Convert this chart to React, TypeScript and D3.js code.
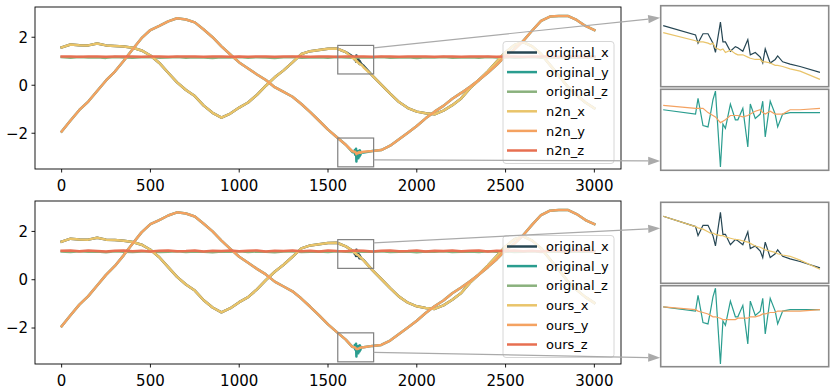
import React from 'react';
import * as d3 from 'd3';

// sample index grid of the coarse trend (every 50 samples)
const sampleT = d3.range(0, 3001, 50);

const trendX = [1.58, 1.70, 1.67, 1.66, 1.74, 1.66, 1.64, 1.61, 1.56, 1.45,
  1.24, 0.93, 0.52, 0.12, -0.20, -0.45, -0.85, -1.15, -1.35, -1.18,
  -0.93, -0.72, -0.40, -0.02, 0.33, 0.62, 0.95, 1.30, 1.42, 1.47,
  1.52, 1.53, 1.38, 1.05, 0.78, 0.40, 0.03, -0.35, -0.70, -0.95,
  -1.10, -1.17, -1.21, -1.06, -0.83, -0.55, -0.12, 0.22, 0.58, 0.98,
  1.38, 1.68, 1.80, 1.62, 1.30, 0.85, 0.40, -0.06, -0.42, -0.72, -0.96];

const trendY = [-1.93, -1.47, -1.03, -0.68, -0.24, 0.20, 0.57, 1.02, 1.50, 1.96,
  2.30, 2.47, 2.66, 2.79, 2.74, 2.62, 2.32, 2.00, 1.62, 1.28,
  0.95, 0.70, 0.45, 0.22, -0.08, -0.28, -0.48, -0.78, -1.12, -1.48,
  -1.85, -2.17, -2.48, -2.74, -2.77, -2.74, -2.70, -2.52, -2.25, -1.98,
  -1.70, -1.38, -1.10, -0.86, -0.56, -0.32, -0.06, 0.22, 0.52, 0.85,
  1.22, 1.50, 1.85, 2.28, 2.68, 2.86, 2.89, 2.89, 2.72, 2.47, 2.30];

const originalZ = [1.17, 1.15, 1.18, 1.16, 1.17, 1.14, 1.18, 1.16, 1.15, 1.17,
  1.18, 1.15, 1.16, 1.18, 1.15, 1.17, 1.16, 1.14, 1.17, 1.16,
  1.18, 1.15, 1.17, 1.16, 1.14, 1.17, 1.18, 1.15, 1.16, 1.17,
  1.15, 1.18, 1.16, 1.15, 1.17, 1.16, 1.18, 1.15, 1.16, 1.17,
  1.14, 1.17, 1.16, 1.18, 1.15, 1.16, 1.17, 1.15, 1.18, 1.16,
  1.17, 1.15, 1.16, 1.18, 1.15, 1.17, 1.16, 1.15, 1.17, 1.16, 1.17];

const n2nZ = [1.20, 1.20, 1.19, 1.20, 1.20, 1.19, 1.20, 1.20, 1.20, 1.19,
  1.20, 1.20, 1.19, 1.20, 1.20, 1.20, 1.19, 1.20, 1.20, 1.19,
  1.20, 1.19, 1.20, 1.20, 1.19, 1.20, 1.20, 1.20, 1.19, 1.20,
  1.20, 1.19, 1.20, 1.20, 1.20, 1.19, 1.20, 1.20, 1.19, 1.20,
  1.20, 1.20, 1.19, 1.20, 1.20, 1.19, 1.20, 1.20, 1.20, 1.19,
  1.20, 1.20, 1.19, 1.20, 1.20, 1.20, 1.19, 1.20, 1.20, 1.19, 1.20];

const oursZ = [1.20, 1.21, 1.18, 1.21, 1.19, 1.17, 1.20, 1.21, 1.18, 1.20,
  1.17, 1.20, 1.21, 1.18, 1.19, 1.21, 1.17, 1.20, 1.19, 1.21,
  1.18, 1.20, 1.21, 1.17, 1.20, 1.19, 1.21, 1.18, 1.20, 1.17,
  1.21, 1.19, 1.18, 1.21, 1.20, 1.17, 1.20, 1.21, 1.18, 1.19,
  1.21, 1.17, 1.20, 1.19, 1.21, 1.18, 1.20, 1.21, 1.17, 1.20,
  1.19, 1.21, 1.18, 1.20, 1.17, 1.21, 1.19, 1.18, 1.21, 1.20, 1.18];

// dense samples around the disturbance (shown in the insets)
const spikeT = [1637, 1650, 1651, 1653, 1655, 1656, 1657, 1658, 1660, 1661, 1662, 1664, 1666, 1667,
  1669, 1671, 1672, 1674, 1676, 1677, 1678, 1680, 1682, 1683, 1685, 1688, 1692, 1700];

const originalXSpike = [1.21, 1.13, 1.06, 1.14, 1.14, 1.10, 1.06, 0.98, 1.24, 1.07, 1.07, 0.99, 1.03, 1.02,
  0.99, 1.09, 0.96, 0.98, 0.94, 0.89, 1.01, 0.89, 0.92, 0.95, 0.90, 0.88, 0.86, 0.81];
const n2nXSpike = [1.15, 1.08, 1.07, 1.07, 1.06, 1.05, 1.06, 1.02, 1.00, 1.01, 0.98, 1.00, 0.97, 0.96,
  0.96, 0.94, 0.93, 0.92, 0.92, 0.90, 0.90, 0.89, 0.87, 0.87, 0.86, 0.84, 0.82, 0.75];
const oursXSpike = [1.21, 1.13, 1.12, 1.11, 1.09, 1.08, 1.08, 1.07, 1.06, 1.06, 1.05, 1.04, 1.03, 1.03,
  1.02, 1.01, 1.00, 0.98, 0.97, 0.96, 0.95, 0.94, 0.93, 0.92, 0.91, 0.90, 0.87, 0.80];

const originalYSpike = [-2.78, -2.81, -2.70, -2.89, -2.90, -2.81, -2.71, -2.65, -3.18, -2.88, -2.91, -2.74, -2.85, -2.85,
  -2.77, -3.04, -2.74, -2.84, -2.81, -2.72, -2.97, -2.72, -2.81, -2.90, -2.81, -2.80, -2.80, -2.80];
const n2nYSpike = [-2.75, -2.77, -2.77, -2.77, -2.80, -2.81, -2.82, -2.83, -2.87, -2.86, -2.85, -2.82, -2.82, -2.82,
  -2.83, -2.82, -2.81, -2.79, -2.78, -2.80, -2.81, -2.79, -2.81, -2.81, -2.81, -2.78, -2.78, -2.77];
const oursYSpike = [-2.78, -2.80, -2.81, -2.82, -2.83, -2.84, -2.85, -2.85, -2.86, -2.87, -2.87, -2.87, -2.87, -2.86,
  -2.86, -2.86, -2.85, -2.85, -2.84, -2.83, -2.83, -2.82, -2.82, -2.81, -2.81, -2.81, -2.81, -2.80];

const xTicks = [0, 500, 1000, 1500, 2000, 2500, 3000];
const yTicks = [-2, 0, 2];
const topLabels = ['original_x', 'original_y', 'original_z', 'n2n_x', 'n2n_y', 'n2n_z'];
const bottomLabels = ['original_x', 'original_y', 'original_z', 'ours_x', 'ours_y', 'ours_z'];
const colors = ['#264653', '#2a9d8f', '#8ab17d', '#e9c46a', '#f4a261', '#e76f51'];

// zoom boxes and inset limits
const boxX = [1555, 1757];
const boxUpper = [0.47, 1.66];
const boxLower = [-3.40, -2.20];
const insetXDomain = [1636, 1703.5];

type Pt = [number, number];

const withSpike = (trend: number[], spike: number[]): Pt[] => {
  const lo = spikeT[0];
  const hi = spikeT[spikeT.length - 1];
  const base: Pt[] = sampleT.map((t, i) => [t, trend[i]] as Pt);
  return [
    ...base.filter((p) => p[0] < lo),
    ...spikeT.map((t, i) => [t, spike[i]] as Pt),
    ...base.filter((p) => p[0] > hi),
  ];
};
const plain = (vals: number[]): Pt[] => sampleT.map((t, i) => [t, vals[i]] as Pt);
const spikeOnly = (vals: number[]): Pt[] => spikeT.map((t, i) => [t, vals[i]] as Pt);

const FONT = 'DejaVu Sans, sans-serif';
const INSET_L = 660.7;
const INSET_R = 828.7;
const INSET_H = 81;

export default function App() {
  const x = d3.scaleLinear().domain([-150, 3150]).range([35, 621]);
  const ix = d3.scaleLinear().domain(insetXDomain).range([INSET_L, INSET_R]);

  const panels = [
    {
      top: 7, bottom: 169, labels: topLabels,
      series: [withSpike(trendX, originalXSpike), withSpike(trendY, originalYSpike), plain(originalZ),
        withSpike(trendX, n2nXSpike), withSpike(trendY, n2nYSpike), plain(n2nZ)],
      insets: [
        { top: 5.7, domain: [0.687, 1.38], lines: [[originalXSpike, 0], [n2nXSpike, 3]] },
        { top: 89.3, domain: [-3.203, -2.637], lines: [[originalYSpike, 1], [n2nYSpike, 4]] },
      ],
      conn: [{ y: 1.56, frac: 0.15 }, { y: -3.11, frac: 0.885 }],
    },
    {
      top: 201, bottom: 364, labels: bottomLabels,
      series: [withSpike(trendX, originalXSpike), withSpike(trendY, originalYSpike), plain(originalZ),
        withSpike(trendX, oursXSpike), withSpike(trendY, oursYSpike), plain(oursZ)],
      insets: [
        { top: 202.3, domain: [0.691, 1.318], lines: [[originalXSpike, 0], [oursXSpike, 3]] },
        { top: 285.7, domain: [-3.2, -2.632], lines: [[originalYSpike, 1], [oursYSpike, 4]] },
      ],
      conn: [{ y: 1.53, frac: 0.32 }, { y: -3.01, frac: 0.89 }],
    },
  ];

  return (
    <svg width={830} height={391} style={{ position: 'absolute', left: 0, top: 0, background: '#fff' }}
      fontFamily={FONT}>
      {panels.map((p, pi) => {
        const y = d3.scaleLinear().domain([-3.49, 3.26]).range([p.bottom, p.top]);
        const line = d3.line<Pt>().x((d) => x(d[0])).y((d) => y(d[1]));
        const legTop = p.top + 34.5;
        return (
          <g key={pi}>
            <defs>
              <clipPath id={`clip${pi}`}>
                <rect x={35} y={p.top} width={586} height={p.bottom - p.top} />
              </clipPath>
            </defs>
            <g clipPath={`url(#clip${pi})`}>
              {p.series.map((s, si) => (
                <path key={si} d={line(s) || ''} fill="none" stroke={colors[si]} strokeWidth={2.5}
                  strokeLinejoin="round" strokeLinecap="square" />
              ))}
            </g>
            {/* zoom boxes */}
            {[boxUpper, boxLower].map((b, bi) => (
              <rect key={bi} x={x(boxX[0])} y={y(b[1])} width={x(boxX[1]) - x(boxX[0])}
                height={y(b[0]) - y(b[1])} fill="none" stroke="#808080" strokeWidth={1.2} />
            ))}
            <rect x={35} y={p.top} width={586} height={p.bottom - p.top} fill="none" stroke="#000" strokeWidth={0.9} />
            {xTicks.map((t) => (
              <g key={t}>
                <line x1={x(t)} x2={x(t)} y1={p.bottom} y2={p.bottom + 3.5} stroke="#000" strokeWidth={0.9} />
                <text x={x(t)} y={p.bottom + 21.8} fontSize={15} textAnchor="middle">{t}</text>
              </g>
            ))}
            {yTicks.map((t) => (
              <g key={t}>
                <line x1={35} x2={31.5} y1={y(t)} y2={y(t)} stroke="#000" strokeWidth={0.9} />
                <text x={28} y={y(t) + 5.4} fontSize={15} textAnchor="end">
                  {t < 0 ? `\u2212${Math.abs(t)}` : t}
                </text>
              </g>
            ))}
            {/* legend */}
            <rect x={503} y={legTop} width={111} height={122} rx={3} fill="#fff" fillOpacity={0.8}
              stroke="#d6d6d6" strokeWidth={1} />
            {p.labels.map((l, li) => {
              const cy = legTop + 11 + li * 19.6;
              return (
                <g key={l}>
                  <line x1={507} x2={537} y1={cy} y2={cy} stroke={colors[li]} strokeWidth={2.5} />
                  <text x={546} y={cy + 4.7} fontSize={13}>{l}</text>
                </g>
              );
            })}
            {/* insets */}
            {p.insets.map((ins, ii) => {
              const iy = d3.scaleLinear().domain(ins.domain).range([ins.top + INSET_H, ins.top]);
              const il = d3.line<Pt>().x((d) => ix(d[0])).y((d) => iy(d[1]));
              return (
                <g key={ii}>
                  <rect x={INSET_L} y={ins.top} width={INSET_R - INSET_L} height={INSET_H} fill="#fff" />
                  {ins.lines.map(([vals, ci], k) => (
                    <path key={k} d={il(spikeOnly(vals as number[])) || ''} fill="none"
                      stroke={colors[ci as number]} strokeWidth={1.2} />
                  ))}
                  <rect x={INSET_L} y={ins.top} width={INSET_R - INSET_L} height={INSET_H} fill="none"
                    stroke="#8a8a8a" strokeWidth={1.6} />
                </g>
              );
            })}
            {/* connectors */}
            {p.conn.map((c, ci) => {
              const sx = x(boxX[1]);
              const sy = y(c.y);
              const ex = INSET_L - 0.5;
              const ey = p.insets[ci].top + c.frac * INSET_H;
              const len = Math.hypot(ex - sx, ey - sy);
              const dx = (ex - sx) / len;
              const dy = (ey - sy) / len;
              const bx = ex - dx * 12;
              const by = ey - dy * 12;
              return (
                <g key={ci}>
                  <line x1={sx} y1={sy} x2={bx} y2={by} stroke="#aaa" strokeWidth={1.2} />
                  <polygon points={`${ex},${ey} ${bx - dy * 4.2},${by + dx * 4.2} ${bx + dy * 4.2},${by - dx * 4.2}`}
                    fill="#aaa" />
                </g>
              );
            })}
          </g>
        );
      })}
    </svg>
  );
}
